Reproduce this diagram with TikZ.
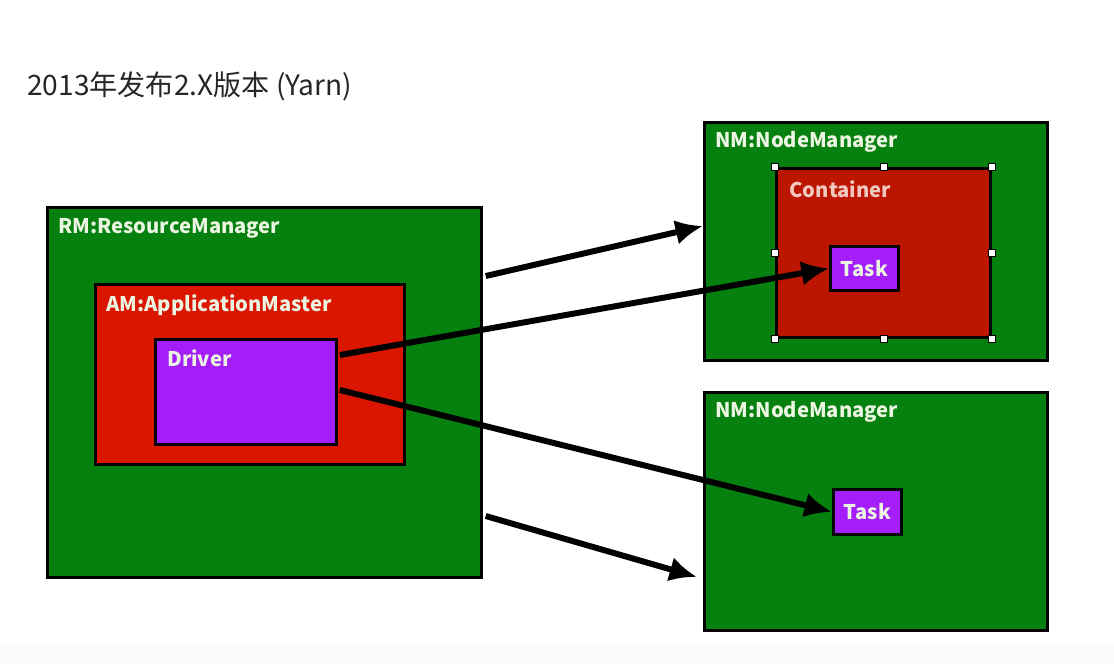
\documentclass[tikz,border=0pt]{standalone}
\usepackage{fontspec}
\setmainfont{Noto Sans CJK SC}
\usetikzlibrary{calc, arrows.meta, positioning}

\definecolor{nmgreen}{RGB}{6,128,14}
\definecolor{amred}{RGB}{218,22,0}
\definecolor{ctred}{RGB}{188,22,0}
\definecolor{taskpurple}{RGB}{164,30,250}
\definecolor{lbltext}{RGB}{236,244,226}
\definecolor{ctlbl}{RGB}{240,200,192}

\begin{document}
\begin{tikzpicture}[x=0.02cm, y=-0.02cm,
    box/.style={draw=black, line width=1.6pt, anchor=north west, inner sep=0pt},
    lbl/.style={anchor=west, text=lbltext, inner sep=0pt, font=\bfseries\fontsize{11.5}{14}\selectfont},
    arr/.style={line width=3.4pt, -{Latex[length=5.5mm,width=5mm]}},
    handle/.style={draw=black, fill=white, line width=0.4pt, minimum size=4pt, inner sep=0pt}]

    % Rahmen und Hintergrund
    \useasboundingbox (0,0) rectangle (1114,664);
    \fill[black!2] (0,645) rectangle (1114,664);

    % Titel
    \node[anchor=west, inner sep=0pt, text=black!85, font=\fontsize{16}{19}\selectfont] (title) at (27,86) {2013年发布2.X版本 (Yarn)};

    % ResourceManager mit ApplicationMaster und Driver
    \node[box, fill=nmgreen, minimum width=8.68cm, minimum height=7.4cm] (rm) at (46,206) {};
    \node[lbl] (rmlbl) at (58,228) {RM:ResourceManager};
    \node[box, fill=amred, minimum width=6.18cm, minimum height=3.6cm] (am) at (94,283) {};
    \node[lbl] (amlbl) at (106,305) {AM:ApplicationMaster};
    \node[box, fill=taskpurple, minimum width=3.62cm, minimum height=2.1cm] (driver) at (154,338) {};
    \node[lbl] (drvlbl) at (167,358) {Driver};

    % NodeManager 1 mit Container
    \node[box, fill=nmgreen, minimum width=6.86cm, minimum height=4.76cm] (nm1) at (703,121) {};
    \node[lbl] (nm1lbl) at (715,142) {NM:NodeManager};
    \node[box, fill=ctred, minimum width=4.28cm, minimum height=3.38cm] (ct) at (775,167) {};
    \node[lbl, text=ctlbl] (ctlbl) at (789,189) {Container};
    \foreach \a in {north west, north, north east, west, east, south west, south, south east}
        \node[handle] at (ct.\a) {};
    \node[box, fill=taskpurple, minimum width=1.36cm, minimum height=0.88cm, text=lbltext, font=\bfseries\fontsize{11.5}{14}\selectfont] (task1) at (829,245) {Task};

    % NodeManager 2
    \node[box, fill=nmgreen, minimum width=6.86cm, minimum height=4.76cm] (nm2) at (703,391) {};
    \node[lbl] (nm2lbl) at (715,412) {NM:NodeManager};
    \node[box, fill=taskpurple, minimum width=1.36cm, minimum height=0.9cm, text=lbltext, font=\bfseries\fontsize{11.5}{14}\selectfont] (task2) at (832,488) {Task};

    % Pfeile
    \draw[arr] ($(rm.north east)+(3,70)$) -- ($(nm1.north west)+(0,105)$);
    \draw[arr] ($(driver.north east)+(2,17)$) -- (task1.west);
    \draw[arr] ($(driver.north east)+(2,52)$) -- (task2.west);
    \draw[arr] ($(rm.north east)+(3,310)$) -- ($(nm2.north west)+(-6,186)$);

\end{tikzpicture}
\end{document}
